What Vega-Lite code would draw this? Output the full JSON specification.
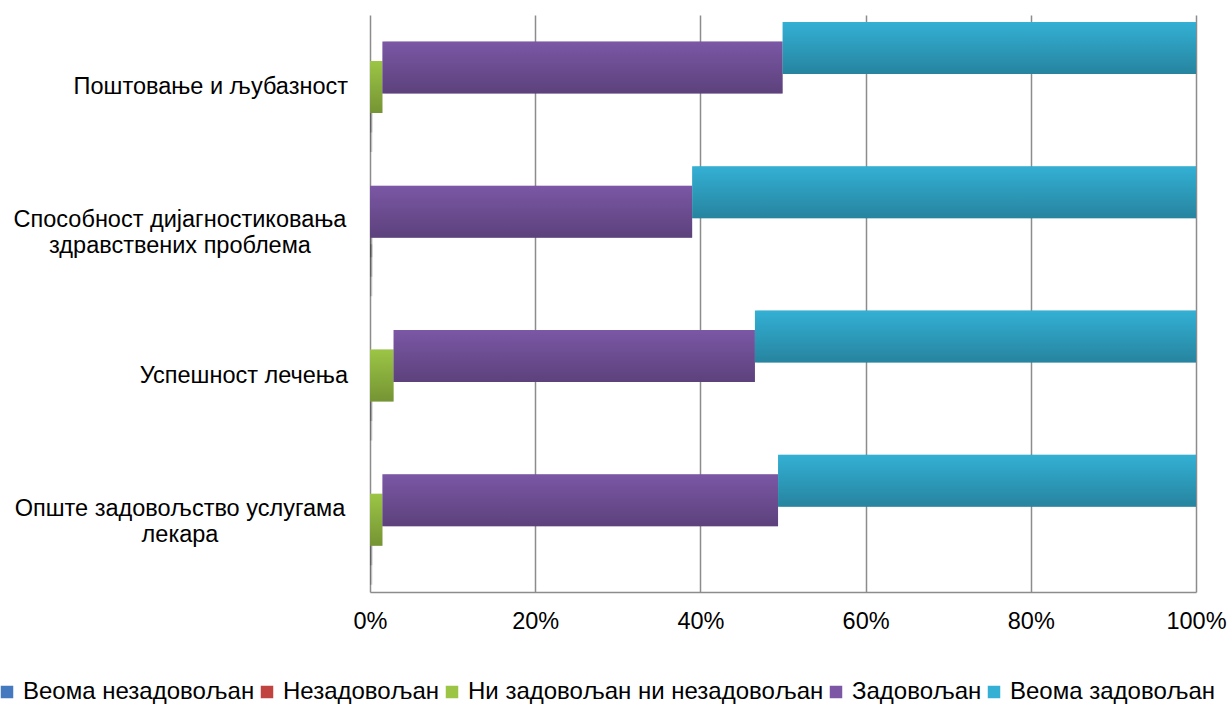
{
  "$schema": "https://vega.github.io/schema/vega-lite/v6.json",
  "width": 826,
  "height": 577,
  "autosize": {"type": "none"},
  "padding": {"left": 370, "top": 15, "right": 31, "bottom": 112},
  "background": "white",
  "config": {
    "view": {"stroke": null},
    "font": "Liberation Sans",
    "text": {"font": "Liberation Sans"}
  },
  "datasets": {
    "bars": [
      {"cat": "Поштовање и љубазност", "series": "Веома незадовољан", "value": 0},
      {"cat": "Поштовање и љубазност", "series": "Незадовољан", "value": 0},
      {"cat": "Поштовање и љубазност", "series": "Ни задовољан ни незадовољан", "value": 1.5},
      {"cat": "Поштовање и љубазност", "series": "Задовољан", "value": 48.45},
      {"cat": "Поштовање и љубазност", "series": "Веома задовољан", "value": 50.05},
      {"cat": "Способност дијагностиковања здравствених проблема", "series": "Веома незадовољан", "value": 0},
      {"cat": "Способност дијагностиковања здравствених проблема", "series": "Незадовољан", "value": 0},
      {"cat": "Способност дијагностиковања здравствених проблема", "series": "Ни задовољан ни незадовољан", "value": 0},
      {"cat": "Способност дијагностиковања здравствених проблема", "series": "Задовољан", "value": 39.0},
      {"cat": "Способност дијагностиковања здравствених проблема", "series": "Веома задовољан", "value": 61.0},
      {"cat": "Успешност лечења", "series": "Веома незадовољан", "value": 0},
      {"cat": "Успешност лечења", "series": "Незадовољан", "value": 0},
      {"cat": "Успешност лечења", "series": "Ни задовољан ни незадовољан", "value": 2.85},
      {"cat": "Успешност лечења", "series": "Задовољан", "value": 43.75},
      {"cat": "Успешност лечења", "series": "Веома задовољан", "value": 53.4},
      {"cat": "Опште задовољство услугама лекара", "series": "Веома незадовољан", "value": 0},
      {"cat": "Опште задовољство услугама лекара", "series": "Незадовољан", "value": 0},
      {"cat": "Опште задовољство услугама лекара", "series": "Ни задовољан ни незадовољан", "value": 1.5},
      {"cat": "Опште задовољство услугама лекара", "series": "Задовољан", "value": 47.9},
      {"cat": "Опште задовољство услугама лекара", "series": "Веома задовољан", "value": 50.6}
    ],
    "labels": [
      {"cat": "Поштовање и љубазност", "label": "Поштовање и љубазност", "multi": false},
      {"cat": "Способност дијагностиковања здравствених проблема", "label": "Способност дијагностиковања\nздравствених проблема", "multi": true},
      {"cat": "Успешност лечења", "label": "Успешност лечења", "multi": false},
      {"cat": "Опште задовољство услугама лекара", "label": "Опште задовољство услугама\nлекара", "multi": true}
    ]
  },
  "encoding": {
    "y": {
      "field": "cat",
      "type": "nominal",
      "scale": {
        "domain": [
          "Поштовање и љубазност",
          "Способност дијагностиковања здравствених проблема",
          "Успешност лечења",
          "Опште задовољство услугама лекара"
        ],
        "paddingInner": 0,
        "paddingOuter": 0
      },
      "axis": null
    }
  },
  "layer": [
    {
      "data": {"name": "bars"},
      "transform": [
        {"stack": "value", "groupby": ["cat"], "offset": "normalize", "as": ["x0", "x1"]}
      ],
      "encoding": {
        "x": {
          "field": "x0",
          "type": "quantitative",
          "scale": {"domain": [0, 1], "nice": false},
          "axis": {
            "values": [0, 0.2, 0.4, 0.6, 0.8, 1],
            "format": "%",
            "title": null,
            "grid": true,
            "gridColor": "#8c8c8c",
            "gridWidth": 1.5,
            "domainColor": "#8c8c8c",
            "domainWidth": 1.5,
            "ticks": false,
            "labelFlush": false,
            "labelFontSize": 23.5,
            "labelColor": "#000000",
            "labelPadding": 17,
            "labelFont": "Liberation Sans"
          }
        },
        "x2": {"field": "x1"},
        "yOffset": {
          "field": "series",
          "type": "nominal",
          "scale": {
            "domain": ["Веома задовољан", "Задовољан", "Ни задовољан ни незадовољан", "Незадовољан", "Веома незадовољан"],
            "range": [23.25, 120.75],
            "paddingInner": 0,
            "paddingOuter": 0
          }
        }
      },
      "layer": [
        {"mark": {"type": "bar", "height": 52, "fill": "#000000", "opacity": 0.1, "yOffset": 4, "xOffset": 2}},
        {"mark": {"type": "bar", "height": 52, "fill": "#000000", "opacity": 0.06, "yOffset": 6, "xOffset": 3}},
        {
          "mark": {"type": "bar", "height": 52},
          "encoding": {
            "color": {
              "field": "series",
              "type": "nominal",
              "scale": {
                "domain": ["Веома незадовољан", "Незадовољан", "Ни задовољан ни незадовољан", "Задовољан", "Веома задовољан"],
                "range": ["#4479C0", "#C0433F", "#9CC545", "#7B57A5", "#33B0D4"]
              },
              "legend": {
                "orient": "none",
                "legendX": -375,
                "legendY": 665,
                "padding": 0,
                "symbolOffset": 0,
                "direction": "horizontal",
                "columns": 5,
                "title": null,
                "symbolType": "square",
                "symbolSize": 156,
                "symbolStrokeWidth": 0,
                "labelFontSize": 24,
                "labelColor": "#000000",
                "labelFont": "Liberation Sans",
                "labelOffset": 4,
                "columnPadding": 0,
                "labelLimit": 0
              }
            }
          }
        },
        {
          "mark": {
            "type": "bar",
            "height": 52,
            "fill": {
              "gradient": "linear",
              "x1": 0, "y1": 0, "x2": 0, "y2": 1,
              "stops": [
                {"offset": 0, "color": "rgba(0,0,0,0)"},
                {"offset": 1, "color": "rgba(0,0,0,0.25)"}
              ]
            }
          }
        }
      ]
    },
    {
      "data": {"name": "labels"},
      "transform": [{"filter": "!datum.multi"}],
      "mark": {"type": "text", "align": "right", "baseline": "middle", "dx": -22, "fontSize": 23.5, "color": "#000000", "font": "Liberation Sans"},
      "encoding": {"x": {"datum": 0}, "text": {"field": "label"}}
    },
    {
      "data": {"name": "labels"},
      "transform": [{"filter": "datum.multi"}],
      "mark": {"type": "text", "align": "center", "baseline": "middle", "dx": -190, "dy": -11, "fontSize": 23.5, "lineBreak": "\n", "lineHeight": 26, "color": "#000000", "font": "Liberation Sans"},
      "encoding": {"x": {"datum": 0}, "text": {"field": "label"}}
    }
  ]
}
